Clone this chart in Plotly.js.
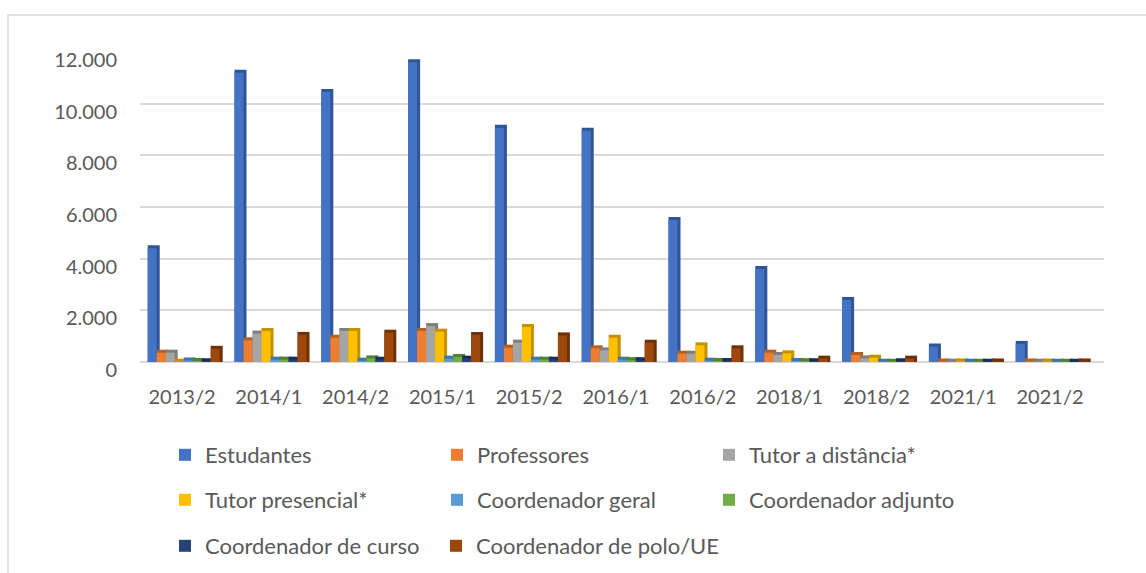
<!DOCTYPE html>
<html>
<head>
<meta charset="utf-8">
<script src="https://cdn.plot.ly/plotly-3.0.1.min.js"></script>
<style>
  html, body { margin: 0; padding: 0; background: #ffffff; }
  #chart { width: 1146px; height: 573px; }
</style>
</head>
<body>
<div id="chart"></div>
<script>
// ---- data ----
const categories = ['2013/2','2014/1','2014/2','2015/1','2015/2','2016/1','2016/2','2018/1','2018/2','2021/1','2021/2'];
const seriesNames = ['Estudantes','Professores','Tutor a distância*','Tutor presencial*','Coordenador geral','Coordenador adjunto','Coordenador de curso','Coordenador de polo/UE'];
const estudantes   = [4400, 11200, 10450, 11600, 9070, 8950, 5500, 3600, 2400, 600, 700];
const professores  = [360, 840, 940, 1200, 555, 530, 320, 360, 270, 20, 20];
const tutorDist    = [360, 1100, 1200, 1390, 750, 450, 320, 270, 140, 10, 10];
const tutorPres    = [10, 1200, 1200, 1175, 1355, 940, 645, 335, 165, 20, 15];
const coordGeral   = [60, 90, 50, 130, 90, 90, 50, 40, 10, 10, 10];
const coordAdjunto = [40, 90, 140, 195, 90, 70, 40, 30, 10, 10, 10];
const coordCurso   = [30, 90, 90, 130, 90, 70, 40, 30, 30, 10, 10];
const coordPolo    = [510, 1050, 1135, 1045, 1030, 750, 530, 130, 130, 20, 20];
const seriesValues = [estudantes, professores, tutorDist, tutorPres, coordGeral, coordAdjunto, coordCurso, coordPolo];

// ---- styles ----
const frontColors = ['#4472C4','#ED7D31','#A5A5A5','#FFC000','#5B9BD5','#70AD47','#264478','#9E480E'];
const sideColors  = ['#2F5597','#B55F22','#7E7E7E','#C29200','#3F76A8','#548235','#1A2F55','#6E3209'];
const legendOf    = ['legend','legend','legend','legend2','legend2','legend2','legend3','legend4'];

const catPx = 86.8;              // pixels per category
const u = 9 / catPx;             // bar face width (category units)
const d = 3 / catPx;             // 3D depth (category units)
const start = -0.395;            // left edge of first bar relative to category

const traces = [];
// depth (side/top) faces first, so they sit behind
seriesValues.forEach((vals, i) => {
  traces.push({
    type: 'bar', x: categories, y: vals,
    offset: start + i * u + d, width: u - d,
    marker: { color: sideColors[i], line: { color: sideColors[i], width: 6 } },
    showlegend: false, hoverinfo: 'skip'
  });
});
seriesValues.forEach((vals, i) => {
  traces.push({
    type: 'bar', name: seriesNames[i], x: categories, y: vals,
    offset: start + i * u, width: u,
    marker: { color: frontColors[i], line: { width: 0 } },
    legend: legendOf[i], hoverinfo: 'skip'
  });
});

const txt = '#595959';
const legendBase = {
  orientation: 'h', xref: 'container', yref: 'container',
  xanchor: 'left', yanchor: 'middle',
  entrywidth: 227, entrywidthmode: 'pixels',
  bgcolor: 'rgba(0,0,0,0)', font: { family: 'Lato', size: 22, color: txt },
  traceorder: 'normal'
};

// plot area: x 140..1104, y 52..362
const L = 140, R = 1104, T = 52, B = 362;
const W = 1146, H = 573;
const px2x = p => (p - L) / (R - L);
const px2y = p => (B - p) / (B - T);
const legX = 165, colW = 271;

const layout = {
  width: W, height: H,
  margin: { l: L, r: W - R, t: T, b: H - B, pad: 0 },
  paper_bgcolor: '#ffffff', plot_bgcolor: 'rgba(0,0,0,0)',
  font: { family: 'Lato', color: txt, size: 20 },
  separators: ',.',
  barmode: 'overlay',
  xaxis: {
    type: 'category', categoryorder: 'array', categoryarray: categories,
    range: [(L - 182) / catPx, (R - 182) / catPx],
    showgrid: false, zeroline: false, showline: false,
    ticks: '', ticklabelstandoff: 21,
    tickfont: { family: 'Lato', size: 20, color: txt }
  },
  yaxis: {
    range: [0, 12000], dtick: 2000, tick0: 0, tickformat: ',.0f',
    showgrid: true, gridcolor: '#d9d9d9', gridwidth: 2,
    zeroline: true, zerolinecolor: '#d9d9d9', zerolinewidth: 2,
    showline: false, ticks: '', ticklabelstandoff: 22, ticklabelshift: 8,
    tickfont: { family: 'Lato', size: 20, color: txt }
  },
  legend:  Object.assign({}, legendBase, { x: legX / W, y: 1 - 455 / H }),
  legend2: Object.assign({}, legendBase, { x: legX / W, y: 1 - 500 / H }),
  legend3: Object.assign({}, legendBase, { x: legX / W, y: 1 - 546 / H }),
  legend4: Object.assign({}, legendBase, { x: (legX + colW) / W, y: 1 - 546 / H, entrywidth: 0 }),
  shapes: [{
    type: 'rect', xref: 'paper', yref: 'paper', layer: 'below',
    x0: px2x(8), x1: px2x(1150), y0: px2y(15), y1: px2y(590),
    line: { color: '#d9d9d9', width: 1.5 }, fillcolor: 'rgba(0,0,0,0)'
  }]
};

Plotly.newPlot('chart', traces, layout, { staticPlot: true, displayModeBar: false });
</script>
</body>
</html>
